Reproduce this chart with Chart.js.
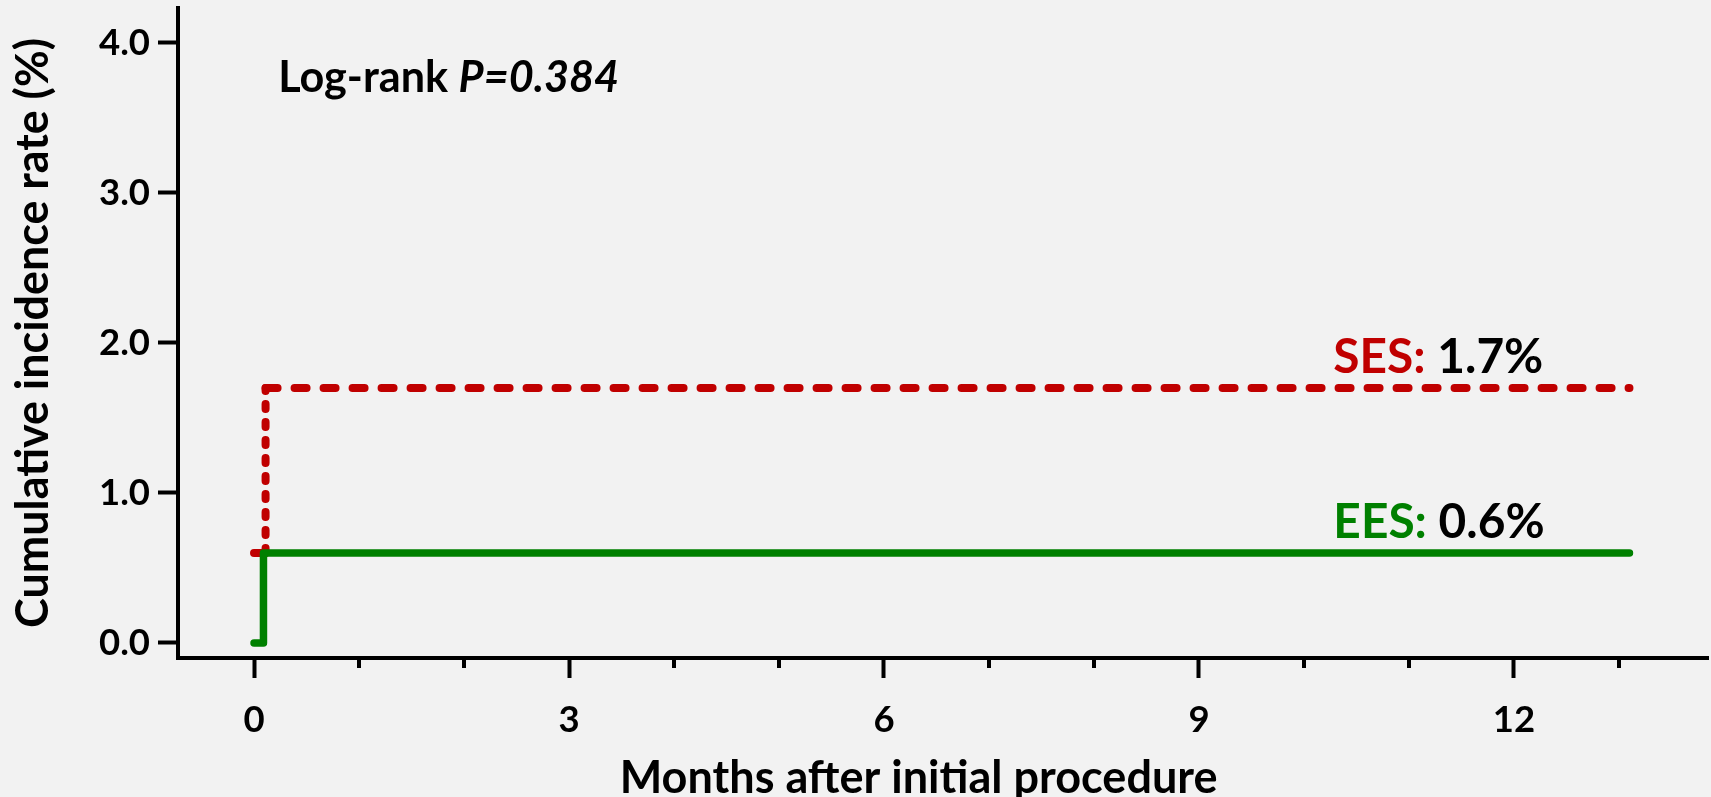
<!DOCTYPE html>
<html>
<head>
<meta charset="utf-8">
<script src="https://cdn.jsdelivr.net/npm/chart.js@4/dist/chart.umd.min.js"></script>
<style>
  html, body { margin: 0; padding: 0; background: #F2F2F2; }
  #wrap { width: 1711px; height: 797px; }
</style>
</head>
<body>
<div id="wrap"><canvas id="chart" width="1711" height="797"></canvas></div>
<script>
// Cumulative incidence curves: months after the procedure vs. rate (%)
const eesMonths = [0, 0.09, 0.09, 13.1];
const eesRates  = [0, 0, 0.6, 0.6];
const sesMonths = [0, 0.11, 0.11, 13.1];
const sesRates  = [0.6, 0.6, 1.7, 1.7];

const seriesNames  = ['EES', 'SES'];
const seriesColors = ['#008000', '#C00000'];

const xTickValues      = [0, 3, 6, 9, 12];
const xMinorTickValues = [1, 2, 4, 5, 7, 8, 10, 11, 13];
const yTickValues      = [0, 1, 2, 3, 4];

const xTitle = 'Months after initial procedure';
const yTitle = 'Cumulative incidence rate (%)';
const logRankPrefix = 'Log-rank ';
const logRankValue  = 'P=0.384';

const FONT = 'Lato';
const INK = '#000000';

// font sizes chosen so each text run spans a given width
const mctx = document.createElement('canvas').getContext('2d');
function widthAt100(text, style) {
  mctx.font = style + ' 100px ' + FONT;
  return mctx.measureText(text).width;
}
function fitSize(text, style, width) { return 100 * width / widthAt100(text, style); }

const tickSize   = fitSize('0.0', 'bold', 51);
const yTitleSize = fitSize(yTitle, 'bold', 590);
const xTitleSize = fitSize(xTitle, 'bold', 598);
const logSize    = 100 * 341 / (widthAt100(logRankPrefix, 'bold') + widthAt100(logRankValue, 'italic bold'));
const serSize    = fitSize('SES: 1.7%', 'bold', 210);

function lastOf(a) { return a[a.length - 1]; }

// keep the plot area fixed: no extra room reserved around edge tick labels
function clearPadding(s) {
  s.paddingTop = 0; s.paddingBottom = 0; s.paddingLeft = 0; s.paddingRight = 0;
}

const annotate = {
  id: 'annotate',
  afterDatasetsDraw(chart) {
    const { ctx, scales: { x, y }, chartArea } = chart;
    ctx.save();

    // minor month ticks
    ctx.strokeStyle = INK;
    ctx.lineWidth = 4;
    ctx.lineCap = 'butt';
    xMinorTickValues.forEach(v => {
      const px = Math.round(x.getPixelForValue(v));
      ctx.beginPath();
      ctx.moveTo(px, chartArea.bottom);
      ctx.lineTo(px, chartArea.bottom + 10);
      ctx.stroke();
    });

    // log-rank test result
    ctx.textBaseline = 'alphabetic';
    ctx.textAlign = 'left';
    ctx.fillStyle = INK;
    let lx = x.getPixelForValue(0.23);
    const ly = y.getPixelForValue(3.67);
    ctx.font = 'bold ' + logSize + 'px ' + FONT;
    ctx.fillText(logRankPrefix, lx, ly);
    lx += ctx.measureText(logRankPrefix).width;
    ctx.font = 'italic bold ' + logSize + 'px ' + FONT;
    ctx.fillText(logRankValue, lx, ly);

    // end-of-curve labels
    const finals = [lastOf(eesRates), lastOf(sesRates)];
    ctx.font = 'bold ' + serSize + 'px ' + FONT;
    seriesNames.forEach((name, i) => {
      const sx = x.getPixelForValue(10.28);
      const sy = y.getPixelForValue(finals[i]) - 15;
      const head = name + ':';
      ctx.fillStyle = seriesColors[i];
      ctx.fillText(head, sx, sy);
      ctx.fillStyle = INK;
      ctx.fillText(' ' + finals[i].toFixed(1) + '%', sx + ctx.measureText(head).width, sy);
    });

    // x-axis title
    ctx.font = 'bold ' + xTitleSize + 'px ' + FONT;
    ctx.textAlign = 'center';
    ctx.fillStyle = INK;
    ctx.fillText(xTitle, x.getPixelForValue(6.33), chartArea.bottom + 135);

    ctx.restore();
  }
};

function toPoints(xs, ys) { return xs.map((v, i) => ({ x: v, y: ys[i] })); }

const yTitleLineHeight = Math.round(yTitleSize * 1.2);

new Chart(document.getElementById('chart'), {
  type: 'line',
  data: {
    datasets: [
      {
        label: seriesNames[0],
        data: toPoints(eesMonths, eesRates),
        borderColor: seriesColors[0],
        borderWidth: 7.5,
        borderCapStyle: 'round',
        borderJoinStyle: 'round',
        pointRadius: 0,
        tension: 0,
        fill: false
      },
      {
        label: seriesNames[1],
        data: toPoints(sesMonths, sesRates),
        borderColor: seriesColors[1],
        borderWidth: 8,
        borderCapStyle: 'round',
        borderJoinStyle: 'round',
        pointRadius: 0,
        tension: 0,
        fill: false,
        segment: {
          // vertical steps dotted, horizontal runs dashed
          borderDash: c => (c.p0.parsed.x === c.p1.parsed.x ? [5, 13] : [12, 17])
        }
      }
    ]
  },
  options: {
    responsive: false,
    animation: false,
    events: [],
    layout: { padding: { top: 8, right: 3, left: 0, bottom: 0 } },
    plugins: { legend: { display: false }, tooltip: { enabled: false } },
    scales: {
      x: {
        type: 'linear',
        min: -0.724,
        max: 13.848,
        afterFit: s => { s.height = 139; clearPadding(s); },
        afterBuildTicks: s => { s.ticks = xTickValues.map(v => ({ value: v })); },
        grid: { display: true, drawOnChartArea: false, drawTicks: true, tickLength: 20, tickWidth: 4, tickColor: INK },
        border: { display: true, color: INK, width: 4 },
        ticks: {
          color: INK,
          padding: 20,
          maxRotation: 0,
          font: { family: FONT, weight: 'bold', size: tickSize },
          callback: v => String(v)
        },
        title: { display: false }
      },
      y: {
        type: 'linear',
        min: -0.1,
        max: 4.233,
        afterFit: s => { s.width = 178; clearPadding(s); },
        afterBuildTicks: s => { s.ticks = yTickValues.map(v => ({ value: v })); },
        grid: { display: true, drawOnChartArea: false, drawTicks: true, tickLength: 20, tickWidth: 4, tickColor: INK },
        border: { display: true, color: INK, width: 4 },
        ticks: {
          color: INK,
          padding: 8,
          font: { family: FONT, weight: 'bold', size: tickSize },
          callback: v => v.toFixed(1)
        },
        title: {
          display: true,
          text: yTitle,
          color: INK,
          font: { family: FONT, weight: 'bold', size: yTitleSize, lineHeight: yTitleLineHeight + 'px' },
          padding: { top: 34 - yTitleLineHeight / 2, bottom: 0 }
        }
      }
    }
  },
  plugins: [annotate]
});
</script>
</body>
</html>
